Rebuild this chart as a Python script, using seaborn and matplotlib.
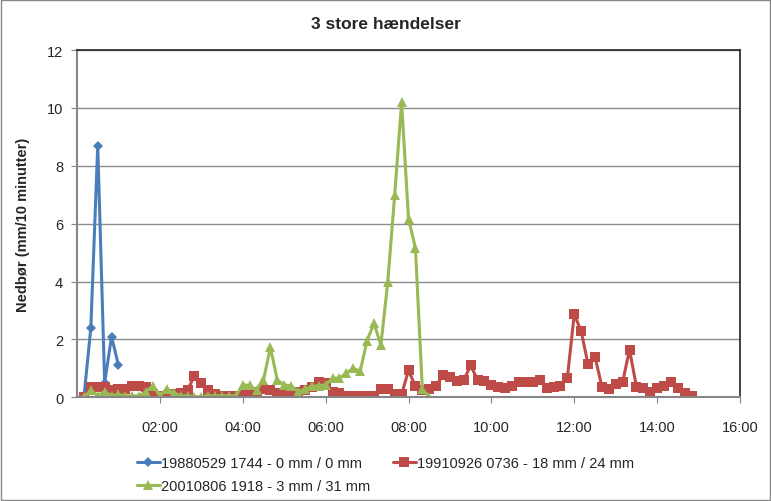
import numpy as np
import pandas as pd
import seaborn as sns
import matplotlib.pyplot as plt
from matplotlib.patches import Rectangle

# Nedbør pr. 10 minutter (mm), første måling kl. 00:10
regn_1988 = [0.0, 2.4, 8.7, 0.5, 2.1, 1.1]

regn_1991 = [0.0, 0.35, 0.35, 0.35, 0.25, 0.3, 0.3, 0.4, 0.4, 0.35,
             0.12, 0.05, 0.05, 0.1, 0.15, 0.25, 0.74, 0.5, 0.25, 0.12,
             0.05, 0.05, 0.05, 0.08, 0.08, 0.2, 0.28, 0.25, 0.15, 0.15,
             0.18, 0.2, 0.26, 0.37, 0.54, 0.5, 0.2, 0.15, 0.05, 0.05,
             0.05, 0.05, 0.05, 0.3, 0.3, 0.1, 0.1, 0.93, 0.38, 0.25,
             0.3, 0.4, 0.77, 0.7, 0.58, 0.6, 1.1, 0.6, 0.58, 0.43,
             0.35, 0.32, 0.4, 0.52, 0.54, 0.54, 0.6, 0.32, 0.35, 0.4,
             0.67, 2.87, 2.28, 1.14, 1.4, 0.37, 0.3, 0.47, 0.52, 1.65,
             0.37, 0.33, 0.2, 0.32, 0.4, 0.52, 0.32, 0.15, 0.05]

regn_2001 = [0.0, 0.25, 0.05, 0.2, 0.05, 0.1, 0.05, 0.05, 0.05, 0.2,
             0.4, 0.05, 0.3, 0.15, 0.05, 0.05, 0.02, 0.02, 0.05, 0.05,
             0.05, 0.05, 0.05, 0.43, 0.41, 0.25, 0.6, 1.73, 0.6, 0.43,
             0.4, 0.2, 0.28, 0.38, 0.4, 0.43, 0.66, 0.66, 0.84, 1.0,
             0.9, 1.96, 2.56, 1.8, 4.0, 7.0, 10.2, 6.17, 5.16, 0.29, 0.0]

navne = ["19880529 1744 - 0 mm / 0 mm",
         "19910926 0736 - 18 mm / 24 mm",
         "20010806 1918 - 3 mm / 31 mm"]
farver = ["#4A7EBB", "#BE4B48", "#98B954"]
markoerer = ["D", "s", "^"]
stoerrelse = [5, 7, 7]

xticks = [2, 4, 6, 8, 10, 12, 14, 16]
xlabels = ["02:00", "04:00", "06:00", "08:00", "10:00", "12:00", "14:00", "16:00"]

sns.set_style("white")
plt.rcParams["font.family"] = ["Liberation Sans Narrow", "Liberation Sans", "DejaVu Sans"]

fig = plt.figure(figsize=(7.71, 5.02), dpi=100)
ax = fig.add_axes([0.0999, 0.2066, 0.8599, 0.6916])

for serie, navn, farve, m, s in zip([regn_1988, regn_1991, regn_2001], navne, farver, markoerer, stoerrelse):
    df = pd.DataFrame({"tid": np.arange(1, len(serie) + 1) * 10 / 60, "mm": serie})
    sns.lineplot(data=df, x="tid", y="mm", ax=ax, color=farve, marker=m,
                 markersize=s, markeredgewidth=0, linewidth=2.2, label=navn)

ax.set_xlim(0, 16)
ax.set_ylim(0, 12)
ax.set_xticks(xticks)
ax.set_xticklabels(xlabels)
ax.set_yticks(range(0, 13, 2))
ax.yaxis.grid(True, color="#8c8c8c", linewidth=1)
ax.set_axisbelow(True)
ax.tick_params(axis="both", labelsize=10.5, length=4, color="#868686", direction="out",
               bottom=True, left=True, pad=12)
ax.tick_params(axis="y", pad=6)
for side in ["left", "bottom"]:
    ax.spines[side].set_color("#868686")
    ax.spines[side].set_linewidth(1.5)
for side in ["top", "right"]:
    ax.spines[side].set_color("#222222")
    ax.spines[side].set_linewidth(1.2)

ax.set_xlabel("")
ax.set_ylabel("Nedbør (mm/10 minutter)", fontsize=10.5, fontweight="bold", labelpad=12)
fig.text(0.5, 0.952, "3 store hændelser", ha="center", va="center", fontsize=12.5, fontweight="bold")

# Excel-rækkefølge: række 1 = 1988, 1991; række 2 = 2001
handles, labels = ax.get_legend_handles_labels()
ax.get_legend().remove()
orden = [0, 2, 1]
fig.legend([handles[i] for i in orden], [labels[i] for i in orden], ncol=2,
           loc="upper center", bbox_to_anchor=(0.5, 0.115),
           frameon=False, fontsize=10.5, handlelength=1.6, handletextpad=0.1,
           columnspacing=1.5, labelspacing=0.6)

fig.patches.append(Rectangle((0.001, 0.001), 0.998, 0.998, transform=fig.transFigure,
                             fill=False, edgecolor="#868686", linewidth=1))

fig.savefig("out.png", dpi=100)
